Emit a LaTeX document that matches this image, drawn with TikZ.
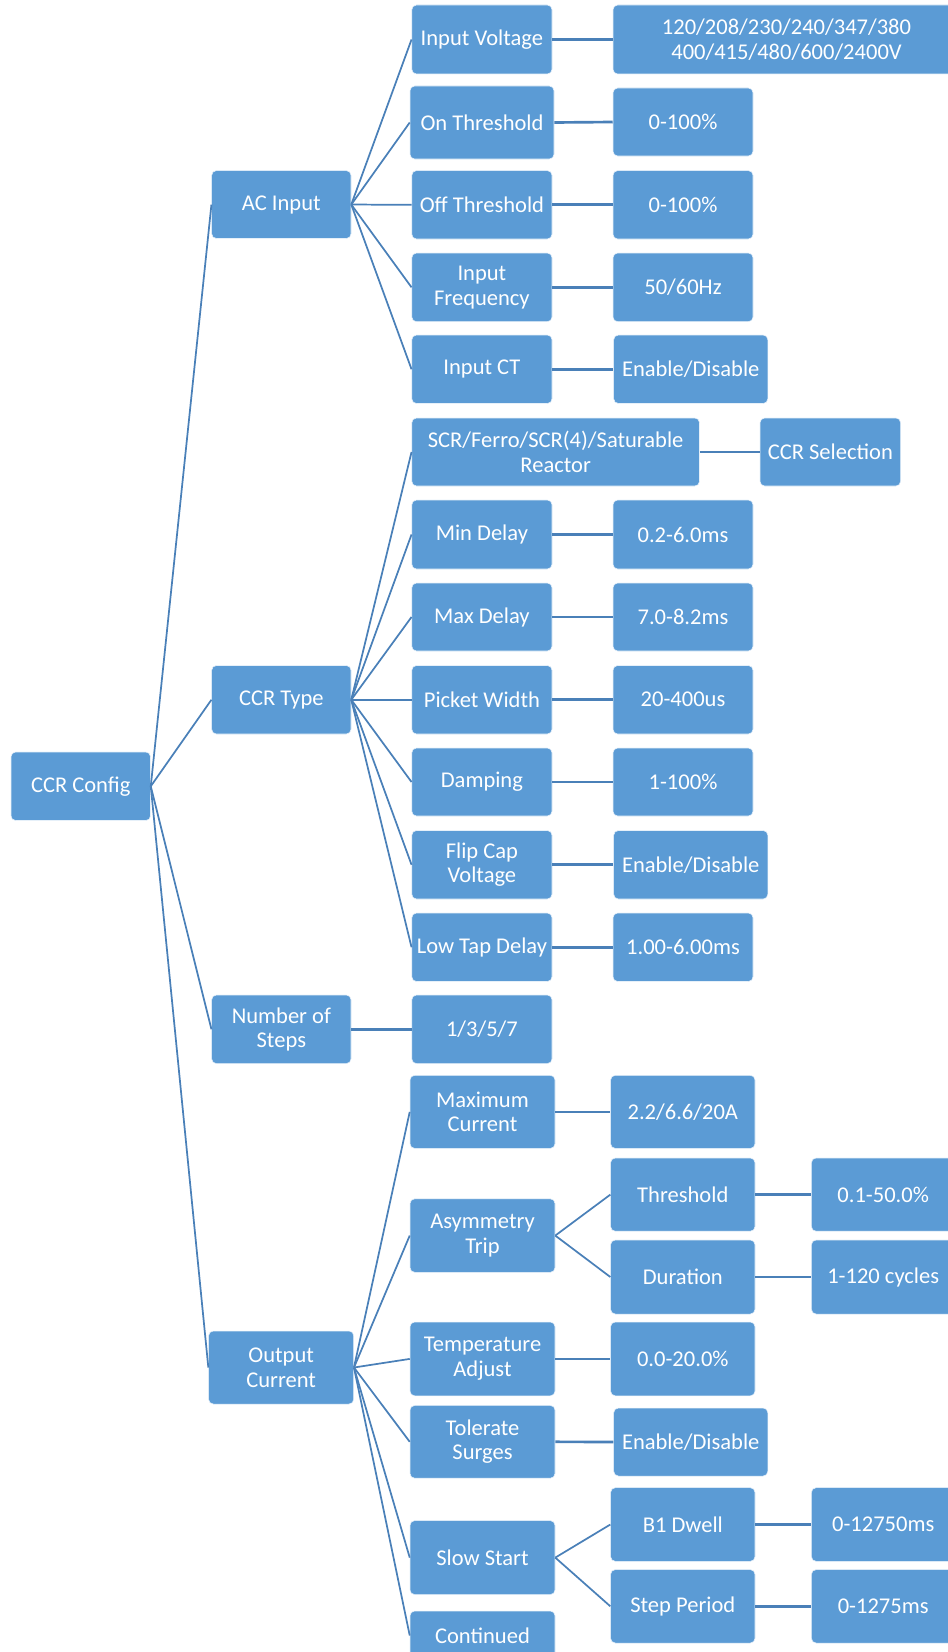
\documentclass[tikz,border=0pt]{standalone}
\usepackage{fontspec}
\setmainfont{Carlito}
\definecolor{boxblue}{HTML}{5B9BD5}
\definecolor{linkblue}{HTML}{4A80B8}
\newcommand\bx[6]{\node[box,minimum width={(#4-#2)*0.75pt},minimum height={(#5-#3)*0.75pt}] (#1) at ({(#2+#4)/2},{(#3+#5)/2}) {#6};}
\begin{document}
\begin{tikzpicture}[x=0.75pt,y=-0.75pt,
  box/.style={rectangle,rounded corners=3.5pt,fill=boxblue,draw=white!85!boxblue,line width=0.4pt,
    text=white,inner sep=0pt,align=center,font=\fontsize{16.9}{18.4}\selectfont},
  link/.style={draw=linkblue,line width=1.3pt},
  hlink/.style={draw=linkblue,line width=2pt}]
\useasboundingbox (0,0) rectangle (948,1652);
% level 0 and 1
\bx{cfg}{11}{752}{150.5}{820.5}{CCR Config}
\bx{ac}{211.7}{170.6}{351}{238.5}{AC Input}
\bx{type}{211.7}{665.5}{351}{734}{CCR Type}
\bx{steps}{211.7}{995}{351}{1063.6}{Number of\\Steps}
\bx{out}{208.6}{1331}{353.7}{1404}{Output\\Current}
% level 2
\bx{iv}{411.8}{5}{552}{74}{Input Voltage}
\bx{onth}{410}{86}{554}{159}{On Threshold}
\bx{offth}{411.8}{170.6}{552}{239}{Off Threshold}
\bx{ifreq}{411.8}{253}{552}{321.7}{Input\\Frequency}
\bx{ict}{411.8}{335}{552}{403.5}{Input CT}
\bx{scr}{411.8}{418}{699.5}{486}{SCR/Ferro/SCR(4)/Saturable\\Reactor}
\bx{mind}{411.8}{500}{552}{569}{Min Delay}
\bx{maxd}{411.8}{583}{552}{651}{Max Delay}
\bx{pick}{411.8}{665.5}{552}{734}{Picket Width}
\bx{damp}{411.8}{748}{552}{816}{Damping}
\bx{flip}{411.8}{830.5}{552}{899}{Flip Cap\\Voltage}
\bx{ltap}{411.8}{913}{552}{981.5}{Low Tap Delay}
\bx{st}{411.8}{995}{552}{1063.6}{1/3/5/7}
\bx{maxc}{410}{1075.3}{555}{1148.4}{Maximum\\Current}
\bx{asym}{410}{1198.8}{555}{1272.3}{Asymmetry\\Trip}
\bx{temp}{410}{1322}{555}{1395.8}{Temperature\\Adjust}
\bx{tol}{410}{1405.4}{555}{1478.2}{Tolerate\\Surges}
\bx{slow}{410}{1520.6}{555}{1594.6}{Slow Start}
\bx{cont}{410}{1611}{555}{1660}{Continued}
% level 3
\bx{v1}{613}{5}{960}{74}{120/208/230/240/347/380\\400/415/480/600/2400V}
\bx{on1}{613}{88}{753}{156}{0-100\%}
\bx{off1}{613}{170.6}{753}{239}{0-100\%}
\bx{fr1}{613}{253}{753}{321.7}{50/60Hz}
\bx{ct1}{613.7}{335}{767.8}{403.5}{Enable/Disable}
\bx{sel}{760}{418}{900.6}{486}{CCR Selection}
\bx{mind1}{613}{500}{753}{569}{0.2-6.0ms}
\bx{maxd1}{613}{583}{753}{651}{7.0-8.2ms}
\bx{pick1}{613}{665.5}{753}{734}{20-400us}
\bx{damp1}{613}{748}{753}{816}{1-100\%}
\bx{flip1}{613.7}{830.5}{767.8}{899}{Enable/Disable}
\bx{ltap1}{613}{913}{753}{981.5}{1.00-6.00ms}
\bx{maxc1}{610.6}{1075.3}{755}{1148.4}{2.2/6.6/20A}
\bx{thr}{610.6}{1158}{755}{1231.2}{Threshold}
\bx{dur}{610.6}{1240}{755}{1314}{Duration}
\bx{temp1}{610.6}{1322}{755}{1395.8}{0.0-20.0\%}
\bx{tol1}{613.7}{1408}{767.8}{1476}{Enable/Disable}
\bx{b1}{610.6}{1487.7}{755}{1561.3}{B1 Dwell}
\bx{sp}{610.6}{1569.6}{755}{1643}{Step Period}
% level 4
\bx{thr1}{811.4}{1158}{955}{1231.2}{0.1-50.0\%}
\bx{dur1}{811.4}{1240}{955}{1314}{1-120 cycles}
\bx{b11}{811.4}{1487.7}{955}{1561.3}{0-12750ms}
\bx{sp1}{811.4}{1569.6}{955}{1643}{0-1275ms}
% connectors
\foreach \c in {ac,type,steps,out} \draw[link] (cfg.east) -- (\c.west);
\foreach \c in {iv,onth,offth,ifreq,ict} \draw[link] (ac.east) -- (\c.west);
\foreach \c in {scr,mind,maxd,pick,damp,flip,ltap} \draw[link] (type.east) -- (\c.west);
\draw[hlink] (steps.east) -- (st.west);
\foreach \c in {maxc,asym,temp,tol,slow} \draw[link] (out.east) -- (\c.west);
\draw[link] (out.east) -- (cont.west);
\foreach \a/\b in {iv/v1,onth/on1,offth/off1,ifreq/fr1,ict/ct1,scr/sel,mind/mind1,maxd/maxd1,pick/pick1,damp/damp1,flip/flip1,ltap/ltap1,maxc/maxc1,temp/temp1,tol/tol1,thr/thr1,dur/dur1,b1/b11,sp/sp1}
  \draw[hlink] (\a.east) -- (\b.west);
\draw[link] (asym.east) -- (thr.west);
\draw[link] (asym.east) -- (dur.west);
\draw[link] (slow.east) -- (b1.west);
\draw[link] (slow.east) -- (sp.west);
\end{tikzpicture}
\end{document}
